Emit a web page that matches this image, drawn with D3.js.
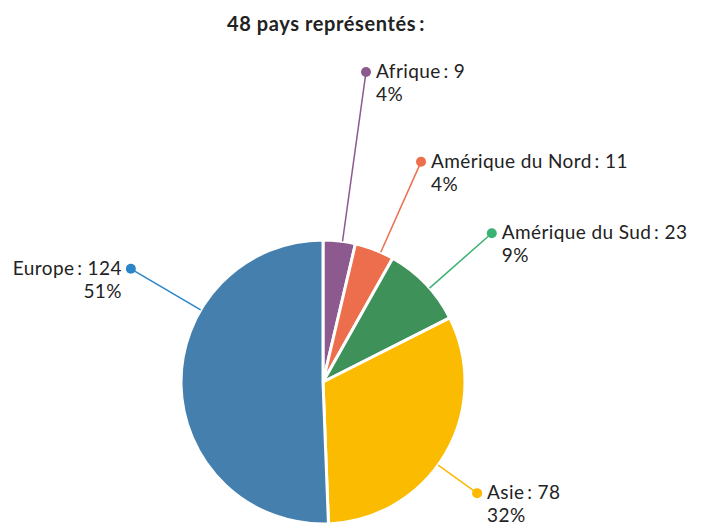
<!DOCTYPE html>
<html>
<head>
<meta charset="utf-8">
<script src="https://cdn.jsdelivr.net/npm/d3@7"></script>
<style>
  body { margin: 0; background: #fff; }
  text { font-family: Lato, "Open Sans", sans-serif; fill: #222; }
</style>
</head>
<body>
<script>
// data
var regions = ["Afrique", "Amérique du Nord", "Amérique du Sud", "Asie", "Europe"];
var counts = [9, 11, 23, 78, 124];
var sliceColors = ["#8c5a8e", "#ec6e4c", "#3d9159", "#fbbb00", "#447fae"];
var dotColors = ["#8c5a8e", "#ec6e4c", "#3bb273", "#fbb900", "#2a86c8"];
var title = "48 pays représentés\u2009:";

// layout of the callouts (angle in degrees from 12 o'clock, distance from centre)
var calloutAngle = [7.9, 24, 48.6, 125.8, 300.5];
var calloutDist = [313, 241, 225, 190, 223];
var calloutSide = ["right", "right", "right", "right", "left"];

var width = 711, height = 530;
var cx = 323, cy = 382, radius = 142;

var svg = d3.select("body").append("svg")
  .attr("width", width)
  .attr("height", height);

svg.append("text")
  .attr("x", 326)
  .attr("y", 31)
  .attr("text-anchor", "middle")
  .style("font-size", "20px")
  .style("font-weight", "bold")
  .style("letter-spacing", "0.6px")
  .text(title);

var total = d3.sum(counts);
var pie = d3.pie().sort(null).value(function(d) { return d; });
var arcs = pie(counts);
var arc = d3.arc().innerRadius(0).outerRadius(radius);

var g = svg.append("g").attr("transform", "translate(" + cx + "," + cy + ")");

g.selectAll("path")
  .data(arcs)
  .enter().append("path")
  .attr("d", arc)
  .attr("fill", function(d, i) { return sliceColors[i]; })
  .attr("stroke", "#fff")
  .attr("stroke-width", 3)
  .attr("stroke-linejoin", "round");

function polar(deg, r) {
  var a = deg * Math.PI / 180;
  return [r * Math.sin(a), -r * Math.cos(a)];
}

var callouts = g.selectAll("g.callout")
  .data(arcs)
  .enter().append("g")
  .attr("class", "callout");

callouts.append("line")
  .attr("x1", function(d, i) { return polar(calloutAngle[i], radius)[0]; })
  .attr("y1", function(d, i) { return polar(calloutAngle[i], radius)[1]; })
  .attr("x2", function(d, i) { return polar(calloutAngle[i], calloutDist[i])[0]; })
  .attr("y2", function(d, i) { return polar(calloutAngle[i], calloutDist[i])[1]; })
  .attr("stroke", function(d, i) { return dotColors[i]; })
  .attr("stroke-width", 1.5);

callouts.append("circle")
  .attr("cx", function(d, i) { return polar(calloutAngle[i], calloutDist[i])[0]; })
  .attr("cy", function(d, i) { return polar(calloutAngle[i], calloutDist[i])[1]; })
  .attr("r", 5)
  .attr("fill", function(d, i) { return dotColors[i]; });

var labels = callouts.append("text")
  .attr("text-anchor", function(d, i) { return calloutSide[i] == "left" ? "end" : "start"; })
  .attr("transform", function(d, i) {
    var p = polar(calloutAngle[i], calloutDist[i]);
    var dx = calloutSide[i] == "left" ? -9 : 10;
    return "translate(" + (p[0] + dx) + "," + (p[1] + 6) + ")";
  })
  .style("font-size", "19px")
  .style("letter-spacing", "0.4px");

labels.append("tspan")
  .attr("x", 0)
  .text(function(d, i) { return regions[i] + "\u2009: " + counts[i]; });

labels.append("tspan")
  .attr("x", 0)
  .attr("dy", 23)
  .text(function(d, i) { return Math.round(counts[i] / total * 100) + "%"; });
</script>
</body>
</html>
